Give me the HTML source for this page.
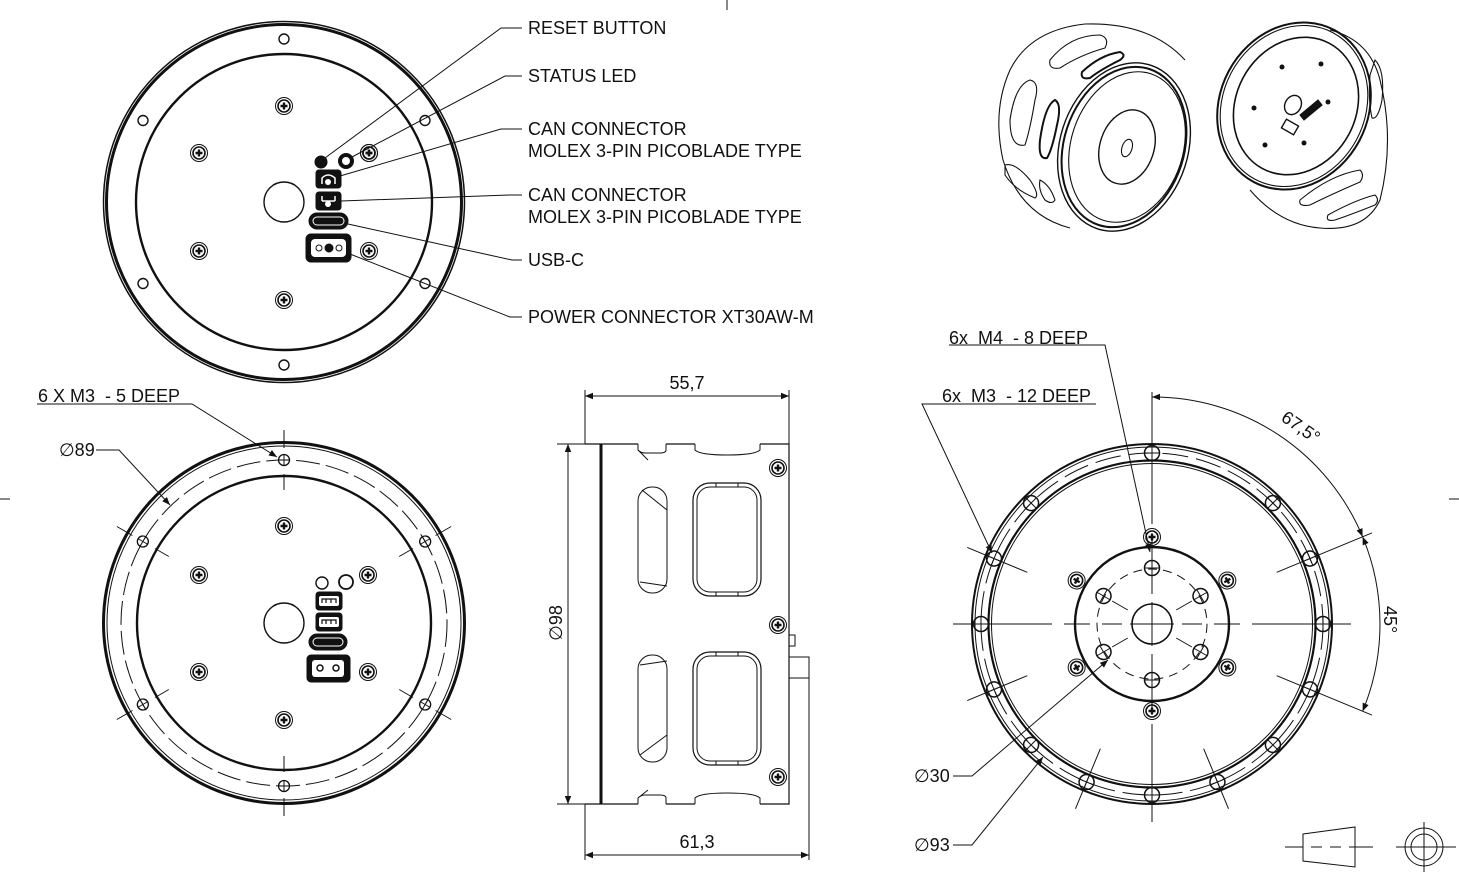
<!DOCTYPE html>
<html><head><meta charset="utf-8"><style>
html,body{margin:0;padding:0;background:#fff}
svg{display:block}
text{font-family:"Liberation Sans",sans-serif;fill:#111;white-space:pre}
</style></head><body>
<svg width="1459" height="883" viewBox="0 0 1459 883" xmlns="http://www.w3.org/2000/svg" fill="none" stroke="#111" stroke-width="1" xml:space="preserve">
<defs>
<g id="scr"><circle r="8.5" stroke-width="1"/><circle r="6" stroke-width="1.6"/><path d="M-3.5,0H3.5M0,-3.5V3.5" stroke-width="2.4"/></g>
<g id="hx"><circle r="5.5" stroke-width="1.3"/><path d="M-5.5,0H5.5M0,-5.5V5.5" stroke-width="1"/></g>
<g id="hx2"><circle r="7.5" stroke-width="1.5"/><path d="M-7.5,0H7.5M0,-7.5V7.5" stroke-width="1"/></g>
<marker id="ar" viewBox="0 0 10 10" refX="10" refY="5" markerWidth="14" markerHeight="8" orient="auto" markerUnits="userSpaceOnUse"><path d="M0,1L10,5L0,9Z" fill="#111" stroke="none"/></marker>
<marker id="ars" viewBox="0 0 10 10" refX="0" refY="5" markerWidth="14" markerHeight="8" orient="auto" markerUnits="userSpaceOnUse"><path d="M10,1L0,5L10,9Z" fill="#111" stroke="none"/></marker>
</defs>

<path d="M727,0V10M0,499H10M1449,499H1459"/>

<!-- TOP-LEFT VIEW -->
<g transform="translate(284,202)">
<circle r="180.5" stroke-width="1.5"/><circle r="177.5" stroke-width="3"/>
<circle r="148" stroke-width="2.4"/>
<circle r="20" stroke-width="1.4"/>
<g stroke-width="1.4">
<circle cx="0" cy="-163" r="5"/><circle cx="141" cy="-81.5" r="5"/><circle cx="141" cy="81.5" r="5"/>
<circle cx="0" cy="163" r="5"/><circle cx="-141" cy="-81.5" r="5"/><circle cx="-141" cy="81.5" r="5"/>
</g>
<use href="#scr" x="0" y="-96"/><use href="#scr" x="-85" y="-49"/><use href="#scr" x="-85" y="49"/>
<use href="#scr" x="0" y="98"/><use href="#scr" x="85" y="-49"/><use href="#scr" x="85" y="49"/>
</g>
<circle cx="321" cy="162" r="6" fill="#111"/>
<circle cx="346" cy="161" r="7.5" fill="#111"/><circle cx="346" cy="161" r="4.5" fill="#fff" stroke="#111"/>
<rect x="316" y="170" width="25" height="18" rx="3" fill="#111"/><path d="M322,184V178Q328,172 335,178V184" stroke="#fff" stroke-width="1.5"/><circle cx="328" cy="182" r="3" fill="#fff" stroke="none"/>
<rect x="316" y="192" width="25" height="18" rx="3" fill="#111"/><path d="M322,196V201M335,196V201M322,201H335" stroke="#fff" stroke-width="1.5"/><circle cx="328" cy="204" r="3" fill="#fff" stroke="none"/>
<rect x="309" y="213" width="39" height="16" rx="8" fill="#111"/><rect x="313" y="217" width="31" height="8" rx="4" stroke="#fff"/>
<rect x="306" y="234" width="45" height="28" rx="5" fill="#111"/><rect x="311" y="239" width="35" height="18" rx="4" fill="#fff" stroke="none"/>
<circle cx="319" cy="248" r="3"/><circle cx="329" cy="248" r="4" fill="#111"/><circle cx="339" cy="248" r="3"/>
<use href="#scr" x="369" y="153"/>

<g stroke-width="1">
<path d="M325,158L501,28H522"/>
<path d="M352,157L505,76H522"/>
<path d="M340,176L501,129H522"/>
<path d="M341,201L510,195H522"/>
<path d="M348,224L512,260H522"/>
<path d="M350,254L510,317H522"/>
</g>
<g font-size="18" stroke="none">
<text x="528" y="34">RESET BUTTON</text>
<text x="528" y="82">STATUS LED</text>
<text x="528" y="135">CAN CONNECTOR</text>
<text x="528" y="157">MOLEX 3-PIN PICOBLADE TYPE</text>
<text x="528" y="201">CAN CONNECTOR</text>
<text x="528" y="223">MOLEX 3-PIN PICOBLADE TYPE</text>
<text x="528" y="266">USB-C</text>
<text x="528" y="323">POWER CONNECTOR XT30AW-M</text>
</g>

<!-- BOTTOM-LEFT VIEW -->
<g transform="translate(284,623)">
<circle r="180.5" stroke-width="3"/><circle r="177" stroke-width="1"/>
<circle r="163" stroke-dasharray="24,6" stroke-width="1"/>
<circle r="147" stroke-width="2.4"/>
<circle r="20" stroke-width="1.4"/>
<g>
<g><path d="M0,-133V-149M0,-175V-193"/><use href="#hx" y="-163"/></g>
<g transform="rotate(60)"><path d="M0,-133V-149M0,-175V-193"/><use href="#hx" y="-163"/></g>
<g transform="rotate(120)"><path d="M0,-133V-149M0,-175V-193"/><use href="#hx" y="-163"/></g>
<g transform="rotate(180)"><path d="M0,-133V-149M0,-175V-193"/><use href="#hx" y="-163"/></g>
<g transform="rotate(240)"><path d="M0,-133V-149M0,-175V-193"/><use href="#hx" y="-163"/></g>
<g transform="rotate(300)"><path d="M0,-133V-149M0,-175V-193"/><use href="#hx" y="-163"/></g>
</g>
<use href="#scr" x="0" y="-97"/><use href="#scr" x="-85" y="-48"/><use href="#scr" x="-85" y="49"/>
<use href="#scr" x="0" y="97"/><use href="#scr" x="84" y="-48"/><use href="#scr" x="84" y="49"/>
</g>
<circle cx="322" cy="583" r="6" stroke-width="1.4"/>
<circle cx="346" cy="582" r="7" stroke-width="1.8"/>
<rect x="316" y="592" width="26" height="18" rx="3" fill="#111"/><rect x="319" y="596" width="20" height="10" rx="2" fill="#fff" stroke="none"/><path d="M322,603V599H336V603M326,599V603M331,599V603" stroke-width="1.2"/>
<rect x="316" y="613" width="26" height="18" rx="3" fill="#111"/><rect x="319" y="617" width="20" height="10" rx="2" fill="#fff" stroke="none"/><path d="M322,624V620H336V624M326,620V624M331,620V624" stroke-width="1.2"/>
<rect x="309" y="634" width="38" height="16" rx="8" fill="#111"/><rect x="313" y="638" width="30" height="8" rx="4" stroke="#fff"/>
<rect x="307" y="655" width="43" height="27" rx="4" fill="#111"/><rect x="312" y="660" width="32" height="17" rx="3" fill="#fff" stroke="none"/>
<circle cx="320" cy="668" r="3" stroke-width="1.5"/><circle cx="336" cy="668" r="3" stroke-width="1.5"/>
<path d="M37,404H192L277,457" marker-end="url(#ar)"/>
<text x="38" y="402" font-size="18" stroke="none">6 X M3  - 5 DEEP</text>
<path d="M96,450H119L170,505" marker-end="url(#ar)"/>
<text x="59" y="456" font-size="18" stroke="none">∅89</text>

<!-- SIDE VIEW -->
<g>
<path d="M585,444H638M666,444H695M760,444H789V804H760M695,804H666M638,804H585Z" stroke-width="1.2"/>
<path d="M638,444V450Q641,453 645,453H660Q666,453 666,450V444M638,450L648,460"/>
<path d="M695,444V450Q700,455 727,455Q755,455 760,450V444"/>
<path d="M638,804V798Q641,795 645,795H660Q666,795 666,798V804M638,798L648,790"/>
<path d="M695,804V798Q700,793 727,793Q755,793 760,798V804"/>
<path d="M601,444V804" stroke-width="3"/>
<rect x="638" y="487" width="29" height="106" rx="14"/>
<path d="M642,490L667,510M640,582L667,586"/>
<rect x="638" y="655" width="29" height="107" rx="14"/>
<path d="M640,665L667,661M640,755L667,735"/>
<rect x="693" y="483" width="68" height="113" rx="17" stroke-width="1.2"/>
<rect x="697" y="487" width="60" height="105" rx="13"/>
<rect x="693" y="652" width="68" height="113" rx="17" stroke-width="1.2"/>
<rect x="697" y="656" width="60" height="105" rx="13"/>
<path d="M716,483V487M738,483V487M716,592V596M738,592V596M716,652V656M738,652V656M716,761V765M738,761V765"/>
<use href="#scr" x="778" y="468"/>
<use href="#scr" x="778" y="625"/>
<use href="#scr" x="778" y="777"/>
<path d="M789,635H795V646H789M789,657H809V678H789M789,586V590"/>
<path d="M585,390V444M789,390V444"/>
<path d="M585,396H789" marker-start="url(#ars)" marker-end="url(#ar)"/>
<text x="687" y="389" font-size="18" text-anchor="middle" stroke="none">55,7</text>
<path d="M585,804V860M809,678V860"/>
<path d="M585,855H809" marker-start="url(#ars)" marker-end="url(#ar)"/>
<text x="697" y="848" font-size="18" text-anchor="middle" stroke="none">61,3</text>
<path d="M557,444H585M557,804H585"/>
<path d="M568,444V804" marker-start="url(#ars)" marker-end="url(#ar)"/>
<text transform="translate(562,623) rotate(-90)" font-size="18" text-anchor="middle" stroke="none">∅98</text>
</g>

<!-- BOTTOM-RIGHT VIEW -->
<g transform="translate(1152,624)">
<circle r="180" stroke-width="2"/><circle r="177"/>
<circle r="171" stroke-dasharray="26,8"/>
<circle r="163.5" stroke-width="2.2"/><circle r="160.5" stroke-width="1"/>
<g>
<use href="#hx2" y="-171"/>
<use href="#hx2" y="-171" transform="rotate(45)"/>
<use href="#hx2" y="-171" transform="rotate(67.5)"/>
<use href="#hx2" y="-171" transform="rotate(90)"/>
<use href="#hx2" y="-171" transform="rotate(112.5)"/>
<use href="#hx2" y="-171" transform="rotate(135)"/>
<use href="#hx2" y="-171" transform="rotate(157.5)"/>
<use href="#hx2" y="-171" transform="rotate(180)"/>
<use href="#hx2" y="-171" transform="rotate(202.5)"/>
<use href="#hx2" y="-171" transform="rotate(225)"/>
<use href="#hx2" y="-171" transform="rotate(247.5)"/>
<use href="#hx2" y="-171" transform="rotate(270)"/>
<use href="#hx2" y="-171" transform="rotate(292.5)"/>
<use href="#hx2" y="-171" transform="rotate(315)"/>
</g>
<g>
<path d="M0,-135V-200" transform="rotate(157.5)"/>
<path d="M0,-135V-200" transform="rotate(202.5)"/>
<path d="M0,-135V-200" transform="rotate(247.5)"/>
<path d="M0,-135V-200" transform="rotate(292.5)"/>
<path d="M0,-135V-238" transform="rotate(67.5)"/>
<path d="M0,-135V-238" transform="rotate(112.5)"/>
</g>
<path d="M-199,0H-100M-88,0H-62M-50,0H-30M-22,0H22M30,0H50M62,0H88M100,0H199"/>
<path d="M0,-232V-100M0,-88V-62M0,-50V-30M0,-22V22M0,30V50M0,62V88M0,100V198"/>
<circle r="77" stroke-width="2.4"/>
<circle r="55" stroke-dasharray="9,6"/>
<circle r="20" stroke-width="1.6"/>
<g>
<g><use href="#scr" y="-87"/><use href="#hx2" y="-56"/></g>
<g transform="rotate(60)"><use href="#scr" y="-87"/><use href="#hx2" y="-56"/><path d="M0,-28V-46"/></g>
<g transform="rotate(120)"><use href="#scr" y="-87"/><use href="#hx2" y="-56"/><path d="M0,-28V-46"/></g>
<g transform="rotate(180)"><use href="#scr" y="-87"/><use href="#hx2" y="-56"/></g>
<g transform="rotate(240)"><use href="#scr" y="-87"/><use href="#hx2" y="-56"/><path d="M0,-28V-46"/></g>
<g transform="rotate(300)"><use href="#scr" y="-87"/><use href="#hx2" y="-56"/><path d="M0,-28V-46"/></g>
</g>
</g>
<path d="M1152,397A227,227 0 0 1 1362.6,536.7" marker-start="url(#ars)" marker-end="url(#ar)"/>
<path d="M1362.6,536.7A228,228 0 0 1 1362.6,711.3" marker-start="url(#ars)" marker-end="url(#ar)"/>
<text transform="translate(1280,420) rotate(35)" font-size="18" stroke="none">67,5°</text>
<text transform="translate(1384,606) rotate(90)" font-size="18" stroke="none">45°</text>
<path d="M949,345H1105L1150,552" marker-end="url(#ar)"/>
<text x="949" y="344" font-size="18" stroke="none">6x  M4  - 8 DEEP</text>
<path d="M1096,404H922L992,553" marker-end="url(#ar)"/>
<text x="942" y="402" font-size="18" stroke="none">6x  M3  - 12 DEEP</text>
<path d="M953,776H972L1108,660" marker-end="url(#ar)"/>
<text x="914" y="782" font-size="18" stroke="none">∅30</text>
<path d="M953,845H972L1043,757" marker-end="url(#ar)"/>
<text x="914" y="851" font-size="18" stroke="none">∅93</text>

<path d="M1303,834L1355,827V867L1303,861Z"/>
<path d="M1285,847H1303M1311,847H1322M1330,847H1341M1349,847H1373"/>
<circle cx="1424" cy="847" r="19"/><circle cx="1424" cy="847" r="13"/>
<path d="M1396,847H1456M1424,822V872"/>

<!-- 3D RENDER LEFT -->
<g stroke-width="1.1">
<path d="M1070,228Q1020,215 1003,160Q992,110 1010,70Q1030,30 1085,24Q1150,22 1185,60"/>
<ellipse cx="1124" cy="147" rx="64" ry="86" transform="rotate(18 1124 147)" stroke-width="1.4"/>
<ellipse cx="1124" cy="147" rx="60" ry="82" transform="rotate(18 1124 147)" stroke-width="2"/>
<ellipse cx="1127" cy="147" rx="56" ry="77" transform="rotate(18 1127 147)"/>
<ellipse cx="1127" cy="147" rx="27" ry="38" transform="rotate(18 1127 147)" stroke-width="1.4"/>
<ellipse cx="1127" cy="148" rx="5" ry="9" transform="rotate(18 1127 148)"/>
<path d="M1050,60Q1070,35 1100,35Q1110,38 1105,48Q1080,55 1060,68Q1048,70 1050,60Z"/>
<path d="M1082,72Q1100,55 1120,52Q1127,55 1120,60Q1100,70 1090,78Q1080,80 1082,72Z" stroke-width="2"/>
<path d="M1010,120Q1015,85 1030,80Q1040,82 1035,100Q1030,130 1025,145Q1010,148 1010,120Z"/>
<path d="M1040,140Q1045,105 1055,100Q1062,104 1057,125Q1052,150 1047,158Q1038,160 1040,140Z" stroke-width="2"/>
<path d="M1005,165Q1015,162 1030,180Q1040,195 1035,198Q1015,190 1005,175Z"/>
<path d="M1040,180Q1050,185 1055,200Q1052,205 1045,200Q1038,190 1040,180Z"/>
</g>
<!-- 3D RENDER RIGHT -->
<g stroke-width="1.1">
<path d="M1330,30Q1370,40 1380,80Q1395,140 1380,200Q1365,232 1320,228Q1280,225 1250,190"/>
<ellipse cx="1294" cy="106" rx="74" ry="86" transform="rotate(28 1294 106)" stroke-width="2"/>
<ellipse cx="1294" cy="106" rx="71" ry="83" transform="rotate(28 1294 106)"/>
<ellipse cx="1296" cy="106" rx="60" ry="71" transform="rotate(28 1296 106)" stroke-width="1.6"/>
<ellipse cx="1293" cy="105" rx="8" ry="10" transform="rotate(28 1293 105)" stroke-width="1.4"/>
<path d="M1300,115l18,-15l4,5l-18,15z" fill="#111"/>
<rect x="1283" y="122" width="14" height="10" transform="rotate(30 1290 127)" stroke-width="1.4"/>
<g fill="#111" stroke="none">
<circle cx="1282" cy="67" r="2.5"/><circle cx="1321" cy="64" r="2.5"/><circle cx="1254" cy="108" r="2.5"/>
<circle cx="1265" cy="145" r="2.5"/><circle cx="1304" cy="143" r="2.5"/><circle cx="1328" cy="102" r="2.5"/>
</g>
<path d="M1300,200Q1330,175 1360,170Q1365,175 1360,182Q1330,195 1310,205Q1298,207 1300,200Z"/>
<path d="M1328,215Q1355,200 1375,195Q1380,200 1375,205Q1350,215 1335,220Q1325,222 1328,215Z"/>
<path d="M1375,60Q1385,70 1382,100Q1378,120 1372,118Q1368,100 1370,75Z"/>
</g>
</svg>
</body></html>
